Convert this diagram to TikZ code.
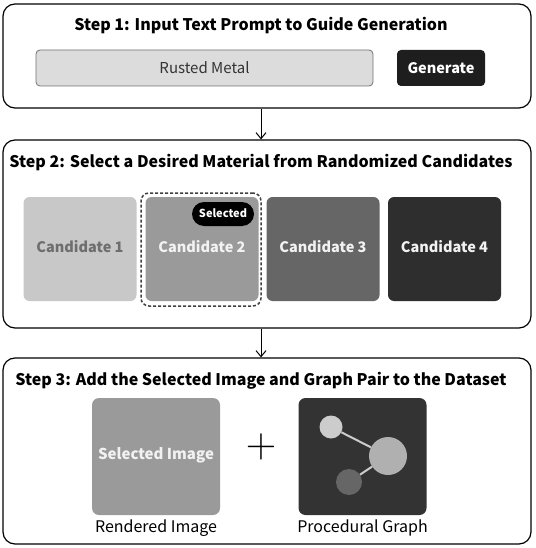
\documentclass[tikz,border=0pt]{standalone}
\usepackage{fontspec}
\setmainfont{Noto Sans CJK SC}
\usetikzlibrary{arrows.meta}
\definecolor{fieldgray}{HTML}{DCDCDC}
\definecolor{cOne}{HTML}{C8C8C8}
\definecolor{cOneTxt}{HTML}{6E6E6E}
\definecolor{cTwo}{HTML}{9A9A9A}
\definecolor{cThree}{HTML}{666666}
\definecolor{cFour}{HTML}{2E2E2E}
\definecolor{btn}{HTML}{1E1E1E}
\definecolor{graphbg}{HTML}{333333}
\definecolor{nodeA}{HTML}{CCCCCC}
\definecolor{nodeB}{HTML}{B0B0B0}
\definecolor{nodeC}{HTML}{666666}
\definecolor{lighttxt}{HTML}{F2F2F2}
\begin{document}
\begin{tikzpicture}[x=1pt,y=-1pt,
  stepframe/.style={draw=black,line width=1.2pt,rounded corners=12pt,inner sep=0pt},
  steptitle/.style={font=\bfseries\fontsize{16}{18}\selectfont,inner sep=0pt,anchor=base},
  cand/.style={rounded corners=6pt,minimum width=113pt,minimum height=104pt,inner sep=0pt},
  candtext/.style={font=\bfseries\fontsize{14.5}{16}\selectfont,inner sep=0pt,anchor=base},
  tile/.style={rounded corners=7pt,minimum width=128pt,minimum height=117pt,inner sep=0pt},
  caption/.style={font=\fontsize{16}{18}\selectfont,inner sep=0pt,anchor=base},
  flow/.style={-{Straight Barb[length=6pt,width=10pt]},line width=1pt},
  edgeline/.style={draw=nodeA,line width=2pt}
]
\useasboundingbox (0,0) rectangle (535,548);
\fill[white] (0,0) rectangle (535,548);

% Step 1
\node[stepframe,minimum width=528pt,minimum height=104pt] (s1) at (267,56) {};
\node[steptitle] (t1) at (261,31) {Step 1: Input Text Prompt to Guide Generation};
\node[draw=black!55,line width=0.8pt,fill=fieldgray,rounded corners=4pt,minimum width=337pt,minimum height=36pt,inner sep=0pt] (field) at (204.5,68) {};
\node[font=\fontsize{15}{17}\selectfont,text=black!80,inner sep=0pt,anchor=base] (fieldtxt) at (204.5,74) {Rusted Metal};
\node[fill=btn,rounded corners=4pt,minimum width=88pt,minimum height=36pt,inner sep=0pt] (gen) at (441,68) {};
\node[font=\bfseries\fontsize{14.5}{16}\selectfont,text=white,inner sep=0pt,anchor=base] (gentxt) at (441,74) {Generate};

% Step 2
\node[stepframe,minimum width=528pt,minimum height=188pt] (s2) at (267,234) {};
\node[steptitle] (t2) at (261,167.5) {Step 2: Select a Desired Material from Randomized Candidates};
\node[cand,fill=cOne] (c1) at (80,249) {};
\node[cand,fill=cTwo] (c2) at (202,249) {};
\node[cand,fill=cThree] (c3) at (323,249) {};
\node[cand,fill=cFour] (c4) at (444.5,249) {};
\node[candtext,text=cOneTxt] (c1t) at (80,252.3) {Candidate 1};
\node[candtext,text=lighttxt] (c2t) at (202,252.3) {Candidate 2};
\node[candtext,text=lighttxt] (c3t) at (323,252.3) {Candidate 3};
\node[candtext,text=lighttxt] (c4t) at (444.5,252.3) {Candidate 4};
\node[draw=black!75,dash pattern=on 3pt off 2pt,line width=1.5pt,rounded corners=8pt,
  minimum width=120pt,minimum height=113pt,inner sep=0pt] (sel) at (201,249.5) {};
\node[fill=black,rounded corners=12pt,minimum width=62pt,minimum height=24pt,inner sep=0pt] (badge) at (223,214) {};
\node[font=\bfseries\fontsize{11}{13}\selectfont,text=white,inner sep=0pt,anchor=base] (badgetxt) at (223,217.7) {Selected};

% Step 3
\node[stepframe,minimum width=528pt,minimum height=186pt] (s3) at (267,451) {};
\node[steptitle] (t3) at (261,385) {Step 3: Add the Selected Image and Graph Pair to the Dataset};
\node[tile,fill=cTwo] (img) at (156,456.5) {};
\node[font=\bfseries\fontsize{15}{17}\selectfont,text=lighttxt,inner sep=0pt,anchor=base] (imgtxt) at (156,459.5) {Selected Image};
\node[tile,fill=graphbg] (graph) at (362.5,456.5) {};
\node[caption] (cap1) at (156,532.5) {Rendered Image};
\node[caption] (cap2) at (362.5,532.5) {Procedural Graph};
\node[font=\fontsize{24}{24}\selectfont,inner sep=0pt,scale=1.7] (plus) at (261,447) {$+$};

% graph contents
\node[circle,fill=nodeA,minimum size=23pt,inner sep=0pt] (ga) at (331,427) {};
\node[circle,fill=nodeB,minimum size=38pt,inner sep=0pt] (gb) at (388,456) {};
\node[circle,fill=nodeC,minimum size=26pt,inner sep=0pt] (gc) at (349,482) {};
\draw[edgeline] (ga) -- (gb);
\draw[edgeline] (gc) -- (gb);

% arrows
\draw[flow] (s1.south -| 261,0) -- (s2.north -| 261,0);
\draw[flow] (s2.south -| 261,0) -- (s3.north -| 261,0);
\end{tikzpicture}
\end{document}
